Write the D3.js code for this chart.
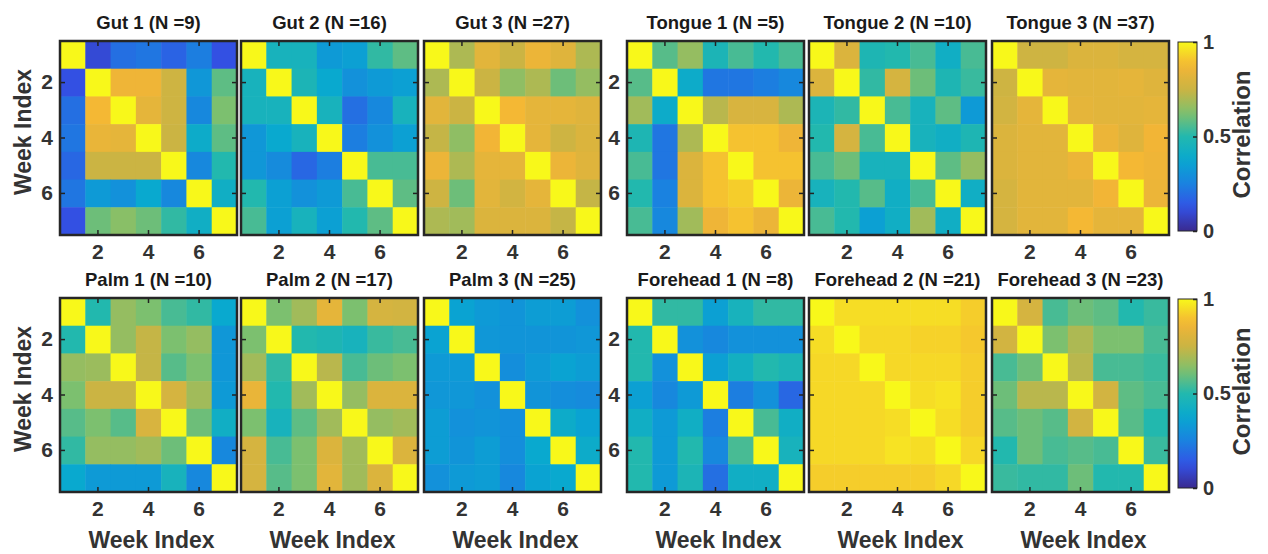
<!DOCTYPE html>
<html>
<head>
<meta charset="utf-8">
<script src="https://cdn.jsdelivr.net/npm/d3@7"></script>
<style>
  body { margin: 0; background: #fff; }
  text { font-family: "Liberation Sans", Arial, sans-serif; font-weight: bold; }
</style>
</head>
<body>
<div id="chart"></div>
<script>
// ---- data ----
var weeks = [1, 2, 3, 4, 5, 6, 7];
var tickWeeks = [2, 4, 6];
var cbarTicks = [0, 0.5, 1];
var sites = ["Gut 1", "Gut 2", "Gut 3", "Tongue 1", "Tongue 2", "Tongue 3",
             "Palm 1", "Palm 2", "Palm 3", "Forehead 1", "Forehead 2", "Forehead 3"];
var counts = [9, 16, 27, 5, 10, 37, 10, 17, 25, 8, 21, 23];

var gut1 = [
  [1, 0.10, 0.20, 0.22, 0.17, 0.24, 0.12],
  [0.12, 1, 0.86, 0.86, 0.76, 0.32, 0.58],
  [0.20, 0.88, 1, 0.83, 0.76, 0.27, 0.62],
  [0.22, 0.84, 0.83, 1, 0.75, 0.40, 0.58],
  [0.18, 0.75, 0.75, 0.75, 1, 0.27, 0.50],
  [0.22, 0.33, 0.30, 0.38, 0.27, 1, 0.42],
  [0.12, 0.60, 0.64, 0.60, 0.52, 0.42, 1]
];
var gut2 = [
  [1, 0.45, 0.45, 0.33, 0.35, 0.52, 0.58],
  [0.45, 1, 0.47, 0.38, 0.30, 0.33, 0.35],
  [0.45, 0.45, 1, 0.45, 0.20, 0.27, 0.45],
  [0.32, 0.38, 0.45, 1, 0.24, 0.30, 0.35],
  [0.32, 0.28, 0.18, 0.24, 1, 0.55, 0.55],
  [0.50, 0.35, 0.30, 0.33, 0.55, 1, 0.58],
  [0.55, 0.35, 0.45, 0.35, 0.50, 0.58, 1]
];
var gut3 = [
  [1, 0.70, 0.82, 0.75, 0.85, 0.81, 0.70],
  [0.70, 1, 0.75, 0.65, 0.70, 0.60, 0.66],
  [0.82, 0.75, 1, 0.88, 0.83, 0.83, 0.81],
  [0.74, 0.65, 0.87, 1, 0.83, 0.76, 0.80],
  [0.85, 0.70, 0.83, 0.83, 1, 0.85, 0.81],
  [0.76, 0.60, 0.82, 0.77, 0.83, 1, 0.74],
  [0.70, 0.68, 0.80, 0.80, 0.80, 0.74, 1]
];
var tongue1 = [
  [1, 0.57, 0.66, 0.47, 0.55, 0.50, 0.55],
  [0.57, 1, 0.40, 0.22, 0.22, 0.24, 0.27],
  [0.68, 0.40, 1, 0.72, 0.79, 0.79, 0.70],
  [0.48, 0.22, 0.70, 1, 0.90, 0.90, 0.86],
  [0.55, 0.22, 0.80, 0.90, 1, 0.90, 0.90],
  [0.50, 0.25, 0.80, 0.90, 0.92, 1, 0.85],
  [0.55, 0.27, 0.68, 0.86, 0.90, 0.85, 1]
];
var tongue2 = [
  [1, 0.80, 0.48, 0.50, 0.55, 0.42, 0.55],
  [0.80, 1, 0.52, 0.78, 0.60, 0.48, 0.53],
  [0.47, 0.52, 1, 0.55, 0.45, 0.58, 0.33],
  [0.50, 0.78, 0.55, 1, 0.45, 0.42, 0.48],
  [0.55, 0.60, 0.45, 0.45, 1, 0.58, 0.66],
  [0.45, 0.50, 0.57, 0.42, 0.55, 1, 0.42],
  [0.55, 0.50, 0.35, 0.42, 0.68, 0.42, 1]
];
var tongue3 = [
  [1, 0.76, 0.76, 0.80, 0.80, 0.78, 0.78],
  [0.76, 1, 0.83, 0.82, 0.82, 0.83, 0.81],
  [0.77, 0.83, 1, 0.83, 0.82, 0.82, 0.83],
  [0.80, 0.82, 0.82, 1, 0.85, 0.81, 0.87],
  [0.80, 0.82, 0.82, 0.85, 1, 0.88, 0.86],
  [0.78, 0.82, 0.82, 0.82, 0.87, 1, 0.85],
  [0.78, 0.82, 0.82, 0.88, 0.83, 0.83, 1]
];
var palm1 = [
  [1, 0.50, 0.66, 0.62, 0.55, 0.52, 0.38],
  [0.50, 1, 0.66, 0.74, 0.62, 0.66, 0.32],
  [0.66, 0.67, 1, 0.74, 0.57, 0.62, 0.32],
  [0.62, 0.75, 0.75, 1, 0.78, 0.68, 0.33],
  [0.57, 0.62, 0.57, 0.79, 1, 0.60, 0.42],
  [0.52, 0.66, 0.66, 0.68, 0.60, 1, 0.27],
  [0.38, 0.33, 0.33, 0.33, 0.45, 0.27, 1]
];
var palm2 = [
  [1, 0.62, 0.68, 0.83, 0.62, 0.78, 0.77],
  [0.62, 1, 0.50, 0.48, 0.45, 0.53, 0.55],
  [0.68, 0.52, 1, 0.72, 0.55, 0.60, 0.62],
  [0.84, 0.50, 0.68, 1, 0.66, 0.80, 0.80],
  [0.62, 0.45, 0.58, 0.68, 1, 0.66, 0.68],
  [0.78, 0.55, 0.62, 0.80, 0.68, 1, 0.80],
  [0.78, 0.57, 0.62, 0.82, 0.68, 0.80, 1]
];
var palm3 = [
  [1, 0.36, 0.33, 0.31, 0.34, 0.34, 0.30],
  [0.36, 1, 0.32, 0.31, 0.31, 0.31, 0.32],
  [0.33, 0.33, 1, 0.29, 0.33, 0.36, 0.34],
  [0.32, 0.32, 0.30, 1, 0.31, 0.29, 0.28],
  [0.34, 0.30, 0.31, 0.29, 1, 0.40, 0.36],
  [0.34, 0.31, 0.34, 0.29, 0.38, 1, 0.40],
  [0.30, 0.33, 0.34, 0.27, 0.36, 0.38, 1]
];
var forehead1 = [
  [1, 0.52, 0.52, 0.35, 0.45, 0.52, 0.52],
  [0.50, 1, 0.30, 0.27, 0.30, 0.30, 0.30],
  [0.50, 0.30, 1, 0.35, 0.43, 0.50, 0.47],
  [0.35, 0.27, 0.33, 1, 0.24, 0.30, 0.18],
  [0.42, 0.33, 0.42, 0.24, 1, 0.55, 0.42],
  [0.50, 0.33, 0.50, 0.27, 0.55, 1, 0.45],
  [0.50, 0.33, 0.47, 0.20, 0.42, 0.42, 1]
];
var forehead2 = [
  [1, 0.95, 0.95, 0.95, 0.95, 0.95, 0.92],
  [0.95, 1, 0.94, 0.94, 0.93, 0.93, 0.91],
  [0.94, 0.94, 1, 0.94, 0.94, 0.94, 0.92],
  [0.94, 0.94, 0.94, 1, 0.95, 0.96, 0.92],
  [0.94, 0.94, 0.94, 0.95, 1, 0.95, 0.92],
  [0.94, 0.94, 0.94, 0.96, 0.95, 1, 0.94],
  [0.92, 0.92, 0.92, 0.92, 0.92, 0.94, 1]
];
var forehead3 = [
  [1, 0.78, 0.55, 0.60, 0.58, 0.50, 0.53],
  [0.77, 1, 0.62, 0.70, 0.62, 0.62, 0.55],
  [0.55, 0.60, 1, 0.72, 0.55, 0.55, 0.53],
  [0.60, 0.72, 0.72, 1, 0.77, 0.58, 0.55],
  [0.57, 0.60, 0.57, 0.77, 1, 0.57, 0.50],
  [0.50, 0.60, 0.55, 0.57, 0.55, 1, 0.53],
  [0.53, 0.52, 0.52, 0.60, 0.50, 0.50, 1]
];
var matrices = [gut1, gut2, gut3, tongue1, tongue2, tongue3,
                palm1, palm2, palm3, forehead1, forehead2, forehead3];

// ---- layout ----
var width = 1268, height = 554;
var colLeft = [60, 241, 424, 627, 809, 992];
var rowTop = [41, 298];
var boxW = 177, boxH = 194;
var cbarX = 1178, cbarW = 19;
var yLabelCols = [0, 3];

// parula-like colormap (tuned to the look of the reference)
var parula = ["#3A2A90", "#3352E6", "#1A82E0", "#08A8D0", "#22B8AE",
              "#80C06C", "#CBB443", "#F4B535", "#F8F81A"];
var color = d3.scaleLinear()
    .domain(d3.range(parula.length).map(function(i) { return i / (parula.length - 1); }))
    .range(parula)
    .clamp(true);

var svg = d3.select("#chart")
    .append("svg")
    .attr("width", width)
    .attr("height", height);

var defs = svg.append("defs");
var grad = defs.append("linearGradient")
    .attr("id", "cbar")
    .attr("x1", 0).attr("y1", 1).attr("x2", 0).attr("y2", 0);
d3.range(0, 1.0001, 0.05).forEach(function(t) {
  grad.append("stop").attr("offset", t).attr("stop-color", color(t));
});

function styleAxis(g) {
  g.select(".domain").remove();
  g.selectAll(".tick line").attr("stroke", "#222").attr("stroke-width", 1.5);
  g.selectAll(".tick text")
    .attr("fill", "#333")
    .style("font-size", "21px");
}

matrices.forEach(function(m, k) {
  var row = Math.floor(k / 6), col = k % 6;
  var x0 = colLeft[col], y0 = rowTop[row];

  var x = d3.scaleBand().domain(weeks).range([x0, x0 + boxW]);
  var y = d3.scaleBand().domain(weeks).range([y0, y0 + boxH]);

  var g = svg.append("g").attr("class", "panel");

  var cells = [];
  m.forEach(function(r, i) {
    r.forEach(function(v, j) {
      cells.push({ "row": weeks[i], "col": weeks[j], "v": v });
    });
  });

  g.selectAll(".cell")
    .data(cells)
    .enter()
    .append("rect")
    .attr("class", "cell")
    .attr("x", function(d) { return x(d.col); })
    .attr("y", function(d) { return y(d.row); })
    .attr("width", x.bandwidth() + 0.5)
    .attr("height", y.bandwidth() + 0.5)
    .attr("fill", function(d) { return color(d.v); });

  // ticks on all four edges, inward
  g.append("g")
    .attr("transform", "translate(0," + (y0 + boxH) + ")")
    .call(d3.axisBottom(x).tickValues(tickWeeks).tickSize(-5).tickPadding(9))
    .call(styleAxis);
  g.append("g")
    .attr("transform", "translate(0," + y0 + ")")
    .call(d3.axisTop(x).tickValues(tickWeeks).tickSize(-5).tickFormat(""))
    .call(styleAxis);
  var showY = yLabelCols.indexOf(col) >= 0;
  g.append("g")
    .attr("transform", "translate(" + x0 + ",0)")
    .call(d3.axisLeft(y).tickValues(tickWeeks).tickSize(-5).tickPadding(7)
      .tickFormat(showY ? null : ""))
    .call(styleAxis);
  g.append("g")
    .attr("transform", "translate(" + (x0 + boxW) + ",0)")
    .call(d3.axisRight(y).tickValues(tickWeeks).tickSize(-5).tickFormat(""))
    .call(styleAxis);

  g.append("rect")
    .attr("x", x0).attr("y", y0)
    .attr("width", boxW).attr("height", boxH)
    .attr("fill", "none")
    .attr("stroke", "#262626")
    .attr("stroke-width", 2.5);

  g.append("text")
    .attr("x", x0 + boxW / 2)
    .attr("y", y0 - 12)
    .attr("text-anchor", "middle")
    .attr("fill", "#1a1a1a")
    .style("font-size", "18.5px")
    .text(sites[k] + " (N =" + counts[k] + ")");

  if (row === 1) {
    g.append("text")
      .attr("x", x0 + boxW / 2 + 3)
      .attr("y", 548)
      .attr("text-anchor", "middle")
      .attr("fill", "#333")
      .style("font-size", "23px")
      .text("Week Index");
  }
  if (col === 0) {
    g.append("text")
      .attr("transform", "translate(31," + (y0 + boxH / 2 - 6) + ") rotate(-90)")
      .attr("text-anchor", "middle")
      .attr("fill", "#333")
      .style("font-size", "23px")
      .text("Week Index");
  }
});

// colorbars
rowTop.forEach(function(y0) {
  var cb = svg.append("g").attr("class", "colorbar");
  var top = y0 + 1, bottom = y0 + boxH - 4;
  var cy = d3.scaleLinear().domain([0, 1]).range([bottom, top]);

  cb.append("rect")
    .attr("x", cbarX).attr("y", top)
    .attr("width", cbarW).attr("height", bottom - top)
    .attr("fill", "url(#cbar)");

  cb.append("g")
    .attr("transform", "translate(" + (cbarX + cbarW) + ",0)")
    .call(d3.axisRight(cy).tickValues(cbarTicks).tickSize(-4).tickPadding(6)
      .tickFormat(d3.format("")))
    .call(styleAxis);
  cb.selectAll(".tick text").style("font-size", "20px");

  cb.append("rect")
    .attr("x", cbarX).attr("y", top)
    .attr("width", cbarW).attr("height", bottom - top)
    .attr("fill", "none")
    .attr("stroke", "#262626")
    .attr("stroke-width", 1);

  cb.append("text")
    .attr("transform", "translate(1250," + ((top + bottom) / 2 - 2) + ") rotate(-90)")
    .attr("text-anchor", "middle")
    .attr("fill", "#333")
    .style("font-size", "24px")
    .text("Correlation");
});
</script>
</body>
</html>
